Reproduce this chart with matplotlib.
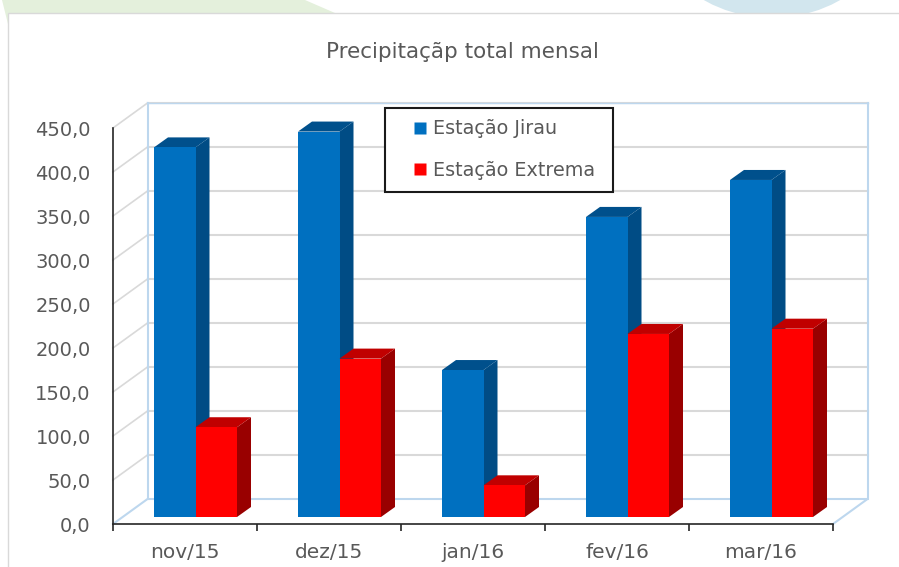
import matplotlib
matplotlib.use("Agg")
import matplotlib.pyplot as plt
from matplotlib.lines import Line2D
from matplotlib.patches import Circle, Polygon, Rectangle
from matplotlib.transforms import Affine2D

months = ["nov/15", "dez/15", "jan/16", "fev/16", "mar/16"]
jirau = [420, 438, 167, 341, 383]
extrema = [102, 180, 36, 208, 214]
y_ticks = [0, 50, 100, 150, 200, 250, 300, 350, 400, 450]

W, H = 899, 567
BLUE = ("#0070C0", "#004C85", "#00508C")
RED = ("#FF0000", "#990000", "#C00000")
TEXT = "#595959"
GRID = "#D9D9D9"
WALL = "#BDD7EE"

# 3d look: units per pixel on the axes below
UX = 1 / 144
UY = 50 / 44
WALL_DX, WALL_DY = 34.5 * UX, 25 * UY
BAR_DX, BAR_DY = 14 * UX, 10 * UY
BAR_W = 41.5 * UX
BAR_START = 41 * UX
BAR_BASE = 7 * UY

plt.rcParams["font.family"] = ["DejaVu Sans"]

fig = plt.figure(figsize=(W / 100, H / 100), dpi=100)

# page behind the chart, in pixels from the top left
page = Affine2D().scale(1, -1).translate(0, H)
fig.patches.append(Polygon([(2, 0), (305, 0), (335, 13), (8, 13), (8, 24)], closed=True,
                           fc="#E4F0DC", ec="none", transform=page, zorder=-3))
fig.patches.append(Circle((772, -121), 139, fc="#D2E6EE", ec="none", transform=page, zorder=-3))
fig.patches.append(Rectangle((8, 13), W, H, fc="white", ec=GRID, lw=1.0, transform=page, zorder=-2))

ax = fig.add_axes([113 / W, 1 - 524 / H, 720 / W, 396 / H])
ax.patch.set_visible(False)
ax.set_xlim(0, 5)
ax.set_ylim(0, 450)

# back wall, side wall and floor
for v in y_ticks[1:]:
    ax.plot([WALL_DX, 5 + WALL_DX], [v + WALL_DY] * 2, color=GRID, lw=1.5, zorder=1, clip_on=False)
    ax.plot([0, WALL_DX], [v, v + WALL_DY], color=GRID, lw=1.2, zorder=1, clip_on=False)
ax.plot([WALL_DX, 5 + WALL_DX], [450 + WALL_DY] * 2, color=WALL, lw=1.0, zorder=1.5, clip_on=False)
ax.plot([0, WALL_DX, 5 + WALL_DX, 5], [0, WALL_DY, WALL_DY, 0], color=WALL, lw=1.5, zorder=1.5, clip_on=False)
ax.plot([WALL_DX, WALL_DX], [WALL_DY, 450 + WALL_DY], color=WALL, lw=1.5, zorder=1.5, clip_on=False)
ax.plot([5 + WALL_DX, 5 + WALL_DX], [WALL_DY, 450 + WALL_DY], color=WALL, lw=1.5, zorder=1.5, clip_on=False)


def draw_bar(slot, shift, value, colors, z):
    x0 = slot + BAR_START + shift * BAR_W
    x1 = x0 + BAR_W
    top = BAR_BASE + value
    ax.bar(x0, value, BAR_W, bottom=BAR_BASE, align="edge", color=colors[0], lw=0, zorder=z + 0.2, clip_on=False)
    ax.add_patch(Polygon([(x1, BAR_BASE), (x1 + BAR_DX, BAR_BASE + BAR_DY),
                          (x1 + BAR_DX, top + BAR_DY), (x1, top)],
                         fc=colors[1], ec="none", zorder=z, clip_on=False))
    ax.add_patch(Polygon([(x0, top), (x0 + BAR_DX, top + BAR_DY),
                          (x1 + BAR_DX, top + BAR_DY), (x1, top)],
                         fc=colors[2], ec="none", zorder=z + 0.1, clip_on=False))


for i in range(len(months)):
    draw_bar(i, 0, jirau[i], BLUE, 2 + i)
    draw_bar(i, 1, extrema[i], RED, 2.5 + i)

for side in ("top", "right"):
    ax.spines[side].set_visible(False)
for side in ("left", "bottom"):
    ax.spines[side].set_color("#262626")
    ax.spines[side].set_linewidth(1.2)

ax.set_yticks(y_ticks)
ax.set_yticklabels([f"{v:.1f}".replace(".", ",") for v in y_ticks])
ax.tick_params(axis="y", length=0, pad=16, labelsize=14, labelcolor=TEXT)
ax.set_xticks(range(6))
ax.set_xticklabels([])
ax.tick_params(axis="x", which="major", length=5, width=1.2, color="#262626")
ax.set_xticks([i + 0.5 for i in range(5)], minor=True)
ax.set_xticklabels(months, minor=True)
ax.tick_params(axis="x", which="minor", length=0, pad=14, labelsize=14.5, labelcolor=TEXT)

fig.text(462 / W, 1 - 52 / H, "Precipitaçãp total mensal", ha="center", va="center", fontsize=15.5, color=TEXT)

handles = [
    Line2D([], [], ls="none", marker="s", ms=8.5, mfc=BLUE[0], mec="none"),
    Line2D([], [], ls="none", marker="s", ms=8, mfc=RED[0], mec="none"),
]
# mode="expand" keeps the frame width fixed instead of hugging the text
leg = ax.legend(handles, ["Estação Jirau", "Estação Extrema"], loc="upper left", mode="expand",
                bbox_to_anchor=(385 / W, 1 - 191 / H, 228 / W, 83 / H), bbox_transform=fig.transFigure,
                fontsize=13.8, labelcolor=TEXT, fancybox=False, framealpha=1, edgecolor="#1A1A1A",
                borderaxespad=0, borderpad=0.6, labelspacing=1.18, handlelength=2.5, handletextpad=-0.6)
leg.get_frame().set_linewidth(1.5)
leg.set_zorder(20)

fig.savefig("out.png", dpi=100)
